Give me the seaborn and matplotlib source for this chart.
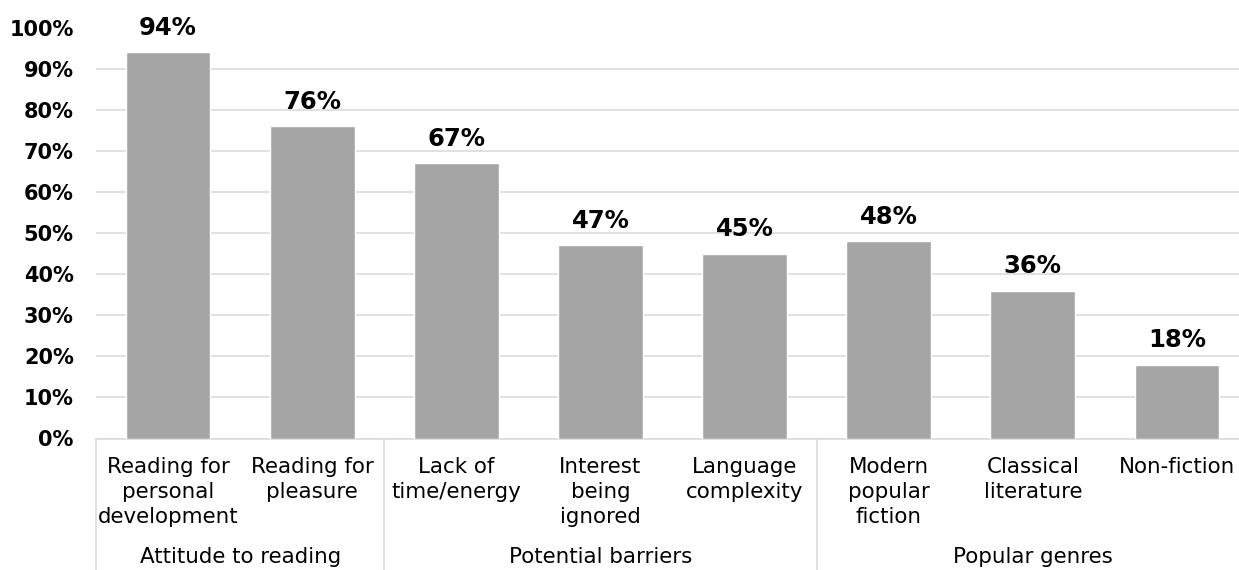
import matplotlib
matplotlib.use("Agg")
import matplotlib.pyplot as plt
import matplotlib.transforms as mtransforms
from matplotlib.lines import Line2D
import seaborn as sns
import pandas as pd

categories = ["Reading for\npersonal\ndevelopment", "Reading for\npleasure",
              "Lack of\ntime/energy", "Interest\nbeing\nignored", "Language\ncomplexity",
              "Modern\npopular\nfiction", "Classical\nliterature", "Non-fiction"]
values = [94, 76, 67, 47, 45, 48, 36, 18]
groups = ["Attitude to reading", "Potential barriers", "Popular genres"]
group_sizes = [2, 3, 3]
yticks = [0, 10, 20, 30, 40, 50, 60, 70, 80, 90, 100]

sns.set_style("white")
plt.rcParams['font.family'] = ['DejaVu Sans']

df = pd.DataFrame({"category": categories, "value": values})

fig = plt.figure(figsize=(12.39, 5.70), dpi=100)
ax = fig.add_axes([96/1239, 131.5/570, 1153/1239, 411/570])

sns.barplot(data=df, x="category", y="value", color="#A5A5A5", width=0.588,
            saturation=1, ax=ax, zorder=3)

ax.set_ylim(0, 100)
ax.set_xlim(-0.5, len(categories) - 0.5)
ax.set_yticks(yticks)
ax.set_yticklabels([f"{v}%" for v in yticks], fontsize=15, fontweight="bold", color="black")
ax.grid(axis="y", color="#D9D9D9", linewidth=1.1, zorder=0)
ax.set_axisbelow(True)
ax.tick_params(axis="y", length=0, pad=16)
ax.tick_params(axis="x", length=0, pad=13)
ax.set_xticks(range(len(categories)))
ax.set_xticklabels(categories, fontsize=15.4, color="black", linespacing=1.33)
ax.set_xlabel("")
ax.set_ylabel("")
for s in ["top", "right", "left"]:
    ax.spines[s].set_visible(False)
ax.spines["bottom"].set_color("#D9D9D9")
ax.spines["bottom"].set_linewidth(1.1)

for c in ax.containers:
    ax.bar_label(c, labels=[f"{v}%" for v in values], padding=9,
                 fontsize=17.5, fontweight="bold", color="black")

trans = mtransforms.blended_transform_factory(ax.transData, ax.transAxes)
start = -0.5
bounds = [start]
for g, n in zip(groups, group_sizes):
    end = start + n
    ax.text((start + end) / 2, -0.304, g, transform=trans, ha="center", va="baseline",
            fontsize=15.4, color="black")
    start = end
    bounds.append(end)
for b in bounds[:-1]:
    ax.add_line(Line2D([b, b], [0, -0.5], transform=trans, color="#D9D9D9",
                       linewidth=1.1, clip_on=False))

fig.savefig("out.png", dpi=100)
